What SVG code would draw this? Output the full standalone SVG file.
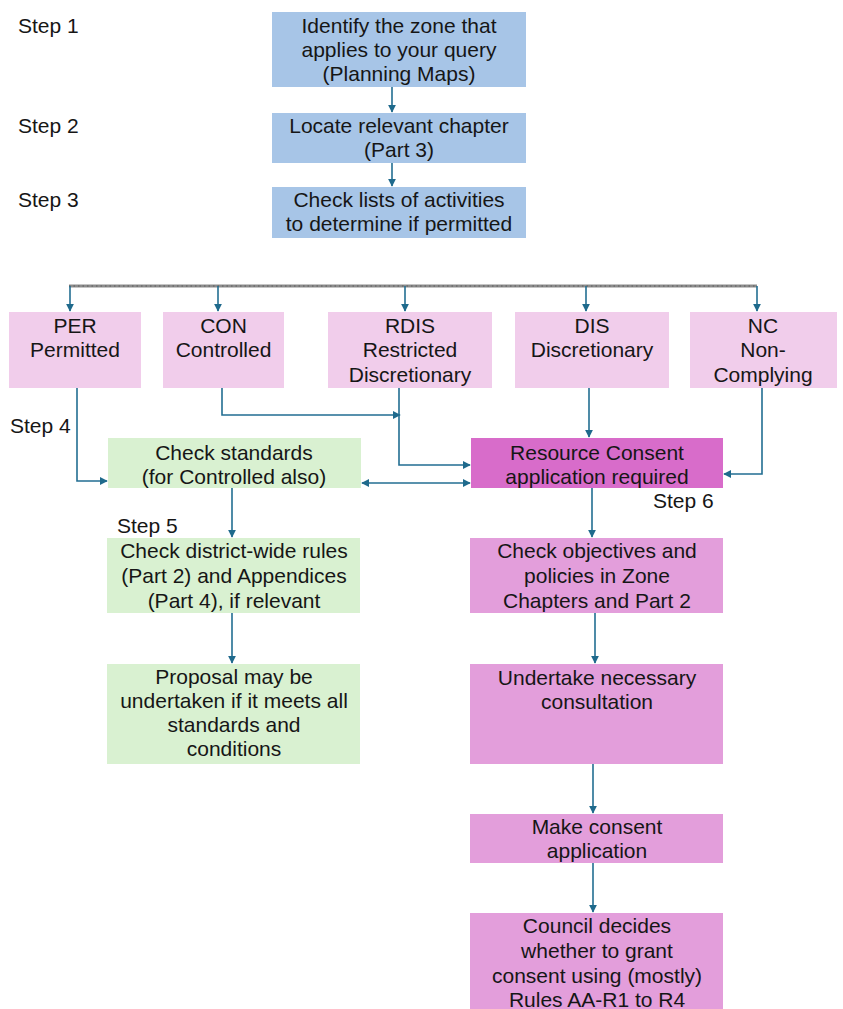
<svg xmlns="http://www.w3.org/2000/svg" width="843" height="1009" viewBox="0 0 843 1009">
<defs>
<style>
text{font-family:"Liberation Sans",Arial,sans-serif;font-size:21px;fill:#161616}
.c{text-anchor:middle}
.blue{fill:#a7c5e7}
.pink{fill:#f1cdeb}
.green{fill:#d9f1d1}
.mag{fill:#d86cca}
.lmag{fill:#e39edb}
.con{fill:none;stroke:#226e92;stroke-width:1.6}
</style>
<marker id="ah" viewBox="0 0 10 10" refX="9" refY="5" markerWidth="8" markerHeight="8" markerUnits="userSpaceOnUse" orient="auto-start-reverse">
<path d="M0,0 L10,5 L0,10 z" fill="#1f6a8c"/>
</marker>
</defs>
<rect width="843" height="1009" fill="#ffffff"/>

<g id="step-labels">
<text x="18" y="33">Step 1</text>
<text x="18" y="133">Step 2</text>
<text x="18" y="207">Step 3</text>
<text x="10" y="433">Step 4</text>
<text x="117" y="533">Step 5</text>
<text x="653" y="508">Step 6</text>
</g>

<g id="n-identify"><rect class="blue" x="272" y="12" width="254" height="75"/>
<text class="c" x="399" y="33">Identify the zone that</text><text class="c" x="399" y="57">applies to your query</text><text class="c" x="399" y="81">(Planning Maps)</text></g>
<g id="n-locate"><rect class="blue" x="272" y="113" width="254" height="50"/>
<text class="c" x="399" y="133">Locate relevant chapter</text><text class="c" x="399" y="157">(Part 3)</text></g>
<g id="n-check-lists"><rect class="blue" x="272" y="187" width="254" height="51"/>
<text class="c" x="399" y="207">Check lists of activities</text><text class="c" x="399" y="231">to determine if permitted</text></g>

<g id="n-per"><rect class="pink" x="9" y="312" width="132" height="76"/>
<text class="c" x="75" y="333">PER</text><text class="c" x="75" y="357">Permitted</text></g>
<g id="n-con"><rect class="pink" x="163" y="312" width="121" height="76"/>
<text class="c" x="223.5" y="333">CON</text><text class="c" x="223.5" y="357">Controlled</text></g>
<g id="n-rdis"><rect class="pink" x="328" y="312" width="164" height="76"/>
<text class="c" x="410" y="333">RDIS</text><text class="c" x="410" y="357">Restricted</text><text class="c" x="410" y="382">Discretionary</text></g>
<g id="n-dis"><rect class="pink" x="515" y="312" width="154" height="76"/>
<text class="c" x="592" y="333">DIS</text><text class="c" x="592" y="357">Discretionary</text></g>
<g id="n-nc"><rect class="pink" x="690" y="312" width="147" height="76"/>
<text class="c" x="763" y="333">NC</text><text class="c" x="763" y="357">Non-</text><text class="c" x="763" y="382">Complying</text></g>

<g id="n-check-standards"><rect class="green" x="108" y="438" width="253" height="50"/>
<text class="c" x="234" y="460">Check standards</text><text class="c" x="234" y="484">(for Controlled also)</text></g>
<g id="n-resource-consent"><rect class="mag" x="471" y="438" width="252" height="50"/>
<text class="c" x="597" y="460">Resource Consent</text><text class="c" x="597" y="484">application required</text></g>

<g id="n-district-rules"><rect class="green" x="107" y="538" width="253" height="75"/>
<text class="c" x="234" y="558">Check district-wide rules</text><text class="c" x="234" y="583">(Part 2) and Appendices</text><text class="c" x="234" y="608">(Part 4), if relevant</text></g>
<g id="n-proposal"><rect class="green" x="107" y="664" width="253" height="100"/>
<text class="c" x="234" y="684">Proposal may be</text><text class="c" x="234" y="708">undertaken if it meets all</text><text class="c" x="234" y="732">standards and</text><text class="c" x="234" y="756">conditions</text></g>

<g id="n-objectives"><rect class="lmag" x="470" y="538" width="253" height="75"/>
<text class="c" x="597" y="558">Check objectives and</text><text class="c" x="597" y="583">policies in Zone</text><text class="c" x="597" y="608">Chapters and Part 2</text></g>
<g id="n-consultation"><rect class="lmag" x="470" y="664" width="253" height="100"/>
<text class="c" x="597" y="685">Undertake necessary</text><text class="c" x="597" y="709">consultation</text></g>
<g id="n-make-application"><rect class="lmag" x="470" y="814" width="253" height="49"/>
<text class="c" x="597" y="834">Make consent</text><text class="c" x="597" y="858">application</text></g>
<g id="n-council"><rect class="lmag" x="470" y="913" width="253" height="100"/>
<text class="c" x="597" y="933">Council decides</text><text class="c" x="597" y="958">whether to grant</text><text class="c" x="597" y="983">consent using (mostly)</text><text class="c" x="597" y="1007">Rules AA-R1 to R4</text></g>

<g id="connectors">
<path d="M69,286 H757" stroke="#8c8c8c" stroke-width="3" fill="none"/>
<path d="M69,286 H757" stroke="#5a5a5a" stroke-width="1" stroke-dasharray="1.5 3" fill="none"/>
<path class="con" d="M392,87 V112" marker-end="url(#ah)"/>
<path class="con" d="M392,163 V186" marker-end="url(#ah)"/>
<path class="con" d="M70,286 V311" marker-end="url(#ah)"/>
<path class="con" d="M218,286 V311" marker-end="url(#ah)"/>
<path class="con" d="M405,286 V311" marker-end="url(#ah)"/>
<path class="con" d="M586,286 V311" marker-end="url(#ah)"/>
<path class="con" d="M757,286 V311" marker-end="url(#ah)"/>
<path class="con" d="M77,388 V481 H107" marker-end="url(#ah)"/>
<path class="con" d="M222,388 V415 H400" marker-end="url(#ah)"/>
<path class="con" d="M399,388 V465 H470" marker-end="url(#ah)"/>
<path class="con" d="M589,388 V437" marker-end="url(#ah)"/>
<path class="con" d="M762,388 V474 H724" marker-end="url(#ah)"/>
<path class="con" d="M362,483 H470" marker-start="url(#ah)" marker-end="url(#ah)"/>
<path class="con" d="M232,488 V537" marker-end="url(#ah)"/>
<path class="con" d="M232,613 V663" marker-end="url(#ah)"/>
<path class="con" d="M592,488 V537" marker-end="url(#ah)"/>
<path class="con" d="M595,613 V663" marker-end="url(#ah)"/>
<path class="con" d="M593,764 V813" marker-end="url(#ah)"/>
<path class="con" d="M593,863 V912" marker-end="url(#ah)"/>
</g>
</svg>
